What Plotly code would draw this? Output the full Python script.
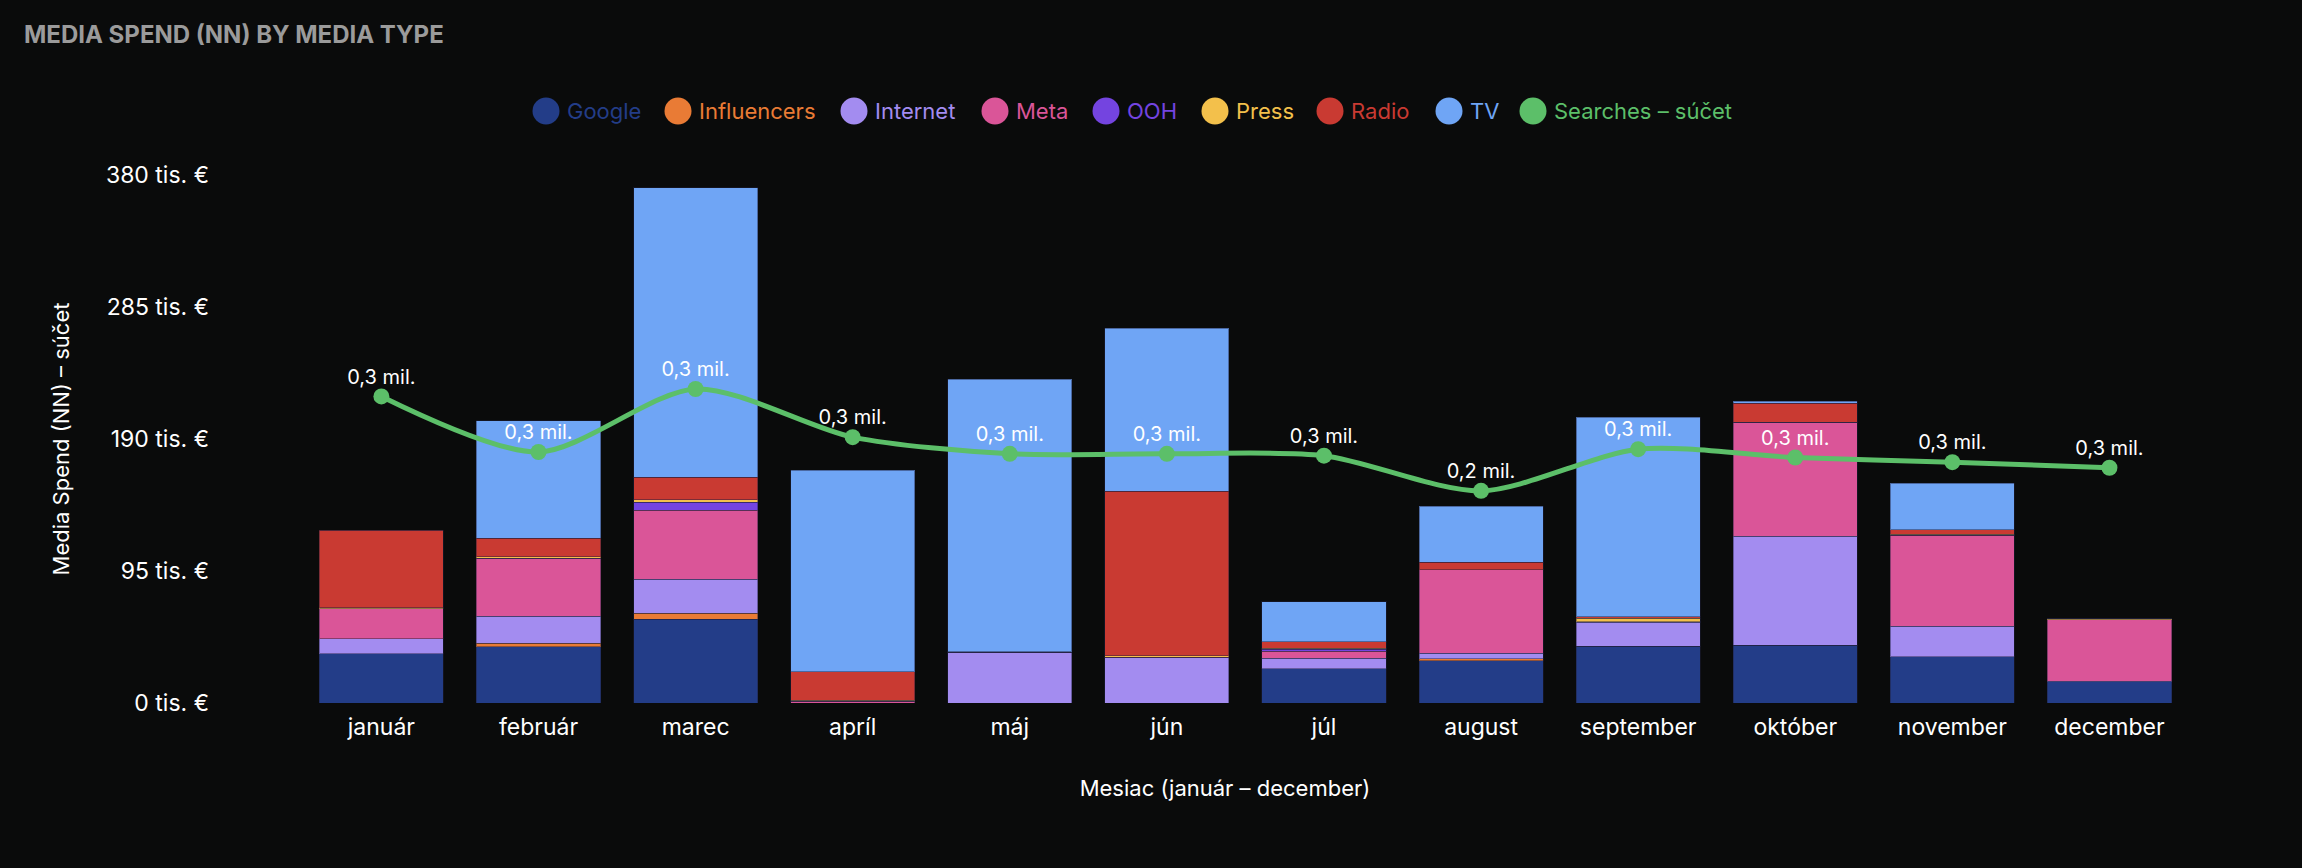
import plotly.graph_objects as go

# months on the x axis
months = ["január", "február", "marec", "apríl", "máj", "jún",
          "júl", "august", "september", "október", "november", "december"]

# media spend per media type (tis. €)
google = [35.3, 40.5, 60.4, 0, 0, 0, 24.7, 30.5, 41.0, 41.5, 33.3, 15.3]
influencers = [0, 2.6, 4.3, 0, 0, 0, 0, 1.2, 0, 0, 0, 0]
internet = [10.8, 19.4, 24.3, 0, 36.5, 32.6, 7.4, 4.0, 17.0, 78.6, 21.9, 0.3]
meta = [21.8, 41.5, 49.8, 1.2, 0, 0.5, 5.1, 60.2, 0.4, 81.8, 65.7, 44.4]
ooh = [0, 0, 5.8, 0, 0, 0, 1.4, 0, 0, 0, 0, 0]
press = [0.6, 1.4, 1.6, 0.8, 0, 1.0, 0.7, 0, 2.5, 0, 0.6, 0.7]
radio = [55.8, 13.1, 16.4, 20.5, 0.5, 118.2, 4.8, 5.3, 1.0, 13.9, 3.2, 0]
tv = [0, 84.6, 208.4, 145.1, 195.9, 117.3, 28.6, 40.3, 143.6, 1.2, 33.6, 0]

# searches total (€) on the hidden secondary axis
searches = [331000, 271000, 339000, 287000, 269000, 269000,
            267000, 229000, 274000, 265000, 260000, 254000]

y_ticks = [0, 95, 190, 285, 380]

series = [
    ("Google", google, "#233D88"),
    ("Influencers", influencers, "#E97B35"),
    ("Internet", internet, "#A38CF0"),
    ("Meta", meta, "#DA5598"),
    ("OOH", ooh, "#7444E0"),
    ("Press", press, "#F3C04B"),
    ("Radio", radio, "#C93A32"),
    ("TV", tv, "#6FA5F5"),
]
green = "#5CBF69"
font_family = "Inter, 'Noto Sans', sans-serif"

W, H = 2302, 868
M_L, M_R, M_T, M_B = 262, 114, 175, 165
plot_w = W - M_L - M_R
plot_h = H - M_T - M_B

fig = go.Figure()

for name, values, color in series:
    fig.add_trace(go.Bar(
        x=months,
        y=[v * 1000 for v in values],
        name=name,
        marker=dict(color=color, line=dict(color="rgba(30,30,60,0.45)", width=1)),
        showlegend=False,
    ))

# line for searches
fig.add_trace(go.Scatter(
    x=months,
    y=searches,
    yaxis="y2",
    name="Searches – súčet",
    mode="lines+markers",
    line=dict(color=green, width=5, shape="spline", smoothing=0.8),
    marker=dict(color=green, size=16),
    showlegend=False,
))

# value labels (invisible smaller markers so the text sits closer to the dots)
labels = [f"{v / 1e6:.1f}".replace(".", ",") + " mil." for v in searches]
fig.add_trace(go.Scatter(
    x=months,
    y=searches,
    yaxis="y2",
    mode="markers+text",
    marker=dict(color="rgba(0,0,0,0)", size=11),
    text=labels,
    textposition="top center",
    textfont=dict(color="#ffffff", size=20, family=font_family),
    hoverinfo="skip",
    showlegend=False,
))

# custom legend: big round dots + coloured labels (pixel x of dot centre)
legend_items = [(name, color) for name, _, color in series] + [("Searches – súčet", green)]
legend_dot_px = [546, 678, 854, 995, 1106, 1215, 1330, 1449, 1533]
legend_y_px = 111
ly = (H - M_B - legend_y_px) / plot_h
for (name, color), px in zip(legend_items, legend_dot_px):
    lx = (px - M_L) / plot_w
    fig.add_shape(
        type="circle", xref="paper", yref="paper",
        xsizemode="pixel", ysizemode="pixel",
        xanchor=lx, yanchor=ly,
        x0=-13.5, x1=13.5, y0=-13.5, y1=13.5,
        fillcolor=color, line=dict(width=0),
    )
    fig.add_annotation(
        text=name, xref="paper", yref="paper",
        x=(px + 19 - M_L) / plot_w, y=ly,
        xanchor="left", yanchor="middle",
        showarrow=False,
        font=dict(size=22, color=color, family=font_family),
    )

fig.update_layout(
    barmode="stack",
    bargap=0.21,
    width=W,
    height=H,
    paper_bgcolor="#0A0B0B",
    plot_bgcolor="#0A0B0B",
    font=dict(family=font_family, color="#ffffff", size=23),
    margin=dict(l=M_L, r=M_R, t=M_T, b=M_B),
    showlegend=False,
    title=dict(
        text="<b>MEDIA SPEND (NN) BY MEDIA TYPE</b>",
        font=dict(size=24, color="#9B9B9B", family=font_family),
        xref="container", x=24 / W, xanchor="left",
        yref="container", y=1 - 35 / H, yanchor="middle",
    ),
    xaxis=dict(
        range=[-0.76, 11.5],
        showgrid=False, zeroline=False, showline=False,
        ticklabelstandoff=8,
        tickfont=dict(size=23, color="#ffffff"),
        title=dict(text="Mesiac (január – december)", standoff=40,
                   font=dict(size=22, color="#ffffff")),
    ),
    yaxis=dict(
        range=[0, 380000],
        tickvals=[t * 1000 for t in y_ticks],
        ticktext=[f"{t} tis. €" for t in y_ticks],
        showgrid=False, zeroline=False, showline=False,
        ticklabelstandoff=52,
        tickfont=dict(size=23, color="#ffffff"),
        title=dict(text="Media Spend (NN) – súčet", standoff=30,
                   font=dict(size=22, color="#ffffff")),
    ),
    yaxis2=dict(
        overlaying="y",
        side="right",
        range=[0, 570000],
        visible=False,
        showgrid=False,
    ),
)

fig.write_html(
    "out.html",
    config={"displayModeBar": False},
    post_script="document.body.style.margin='0';"
                "document.body.style.background='#0A0B0B';",
)
